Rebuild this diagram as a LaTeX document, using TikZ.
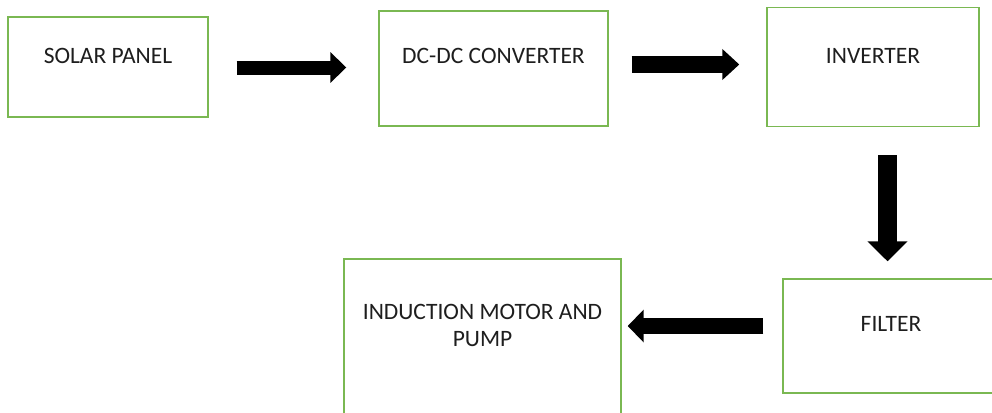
\documentclass[tikz,border=0pt]{standalone}
\usepackage{fontspec}
\setmainfont{Carlito}
\usetikzlibrary{arrows.meta,calc}
\definecolor{boxgreen}{RGB}{122,184,82}
\definecolor{txt}{RGB}{30,30,30}
\tikzset{
  box/.style={draw=boxgreen, line width=1.4pt, rectangle, inner sep=0pt, fill=white},
  lbl/.style={text=txt, font=\fontsize{23.5}{27}\selectfont, align=center, inner sep=0pt},
}
\begin{document}
\begin{tikzpicture}[x=1pt,y=-1pt]
\useasboundingbox (0,0) rectangle (992,412);
\clip (0,0) rectangle (992,412);
% boxes
\node[box, minimum width=200pt, minimum height=100pt] (solar) at (108,67) {};
\node[box, minimum width=229pt, minimum height=115pt] (dcdc) at (493.5,68.5) {};
\node[box, minimum width=212pt, minimum height=119pt] (inv) at (873,67) {};
\node[box, minimum width=216pt, minimum height=114pt] (filt) at (891,336) {};
\node[box, minimum width=277pt, minimum height=200pt] (motor) at (482.5,359) {};
% labels
\node[lbl] (tsolar) at ($(solar.north)+(0,40)$) {SOLAR PANEL};
\node[lbl] (tdcdc) at ($(dcdc.north)+(0,46)$) {DC-DC CONVERTER};
\node[lbl] (tinv) at ($(inv.north)+(0,49)$) {INVERTER};
\node[lbl] (tfilt) at ($(filt.north)+(0,46)$) {FILTER};
\node[lbl] (tmotor) at ($(motor.north)+(0,67)$) {INDUCTION MOTOR AND\\PUMP};
% arrow end points
\coordinate (a1s) at ($(solar.east)+(28,0.5)$);
\coordinate (a1e) at ($(dcdc.west |- a1s)+(-32,0)$);
\coordinate (a2s) at ($(dcdc.east)+(23,-4)$);
\coordinate (a2e) at ($(inv.west |- a2s)+(-27,0)$);
\coordinate (a3s) at ($(inv.south)+(14.5,28)$);
\coordinate (a3e) at ($(a3s |- filt.north)+(0,-17)$);
\coordinate (a4s) at ($(filt.west)+(-19,-10)$);
\coordinate (a4e) at ($(motor.east |- a4s)+(6,0)$);
% block arrows
\draw[line width=14pt, -{Triangle[length=16pt,width=30pt]}] (a1s) -- (a1e);
\draw[line width=16pt, -{Triangle[length=17pt,width=30pt]}] (a2s) -- (a2e);
\draw[line width=19pt, -{Triangle[length=20pt,width=39pt]}] (a3s) -- (a3e);
\draw[line width=16pt, -{Triangle[length=16pt,width=32pt]}] (a4s) -- (a4e);
\end{tikzpicture}
\end{document}
